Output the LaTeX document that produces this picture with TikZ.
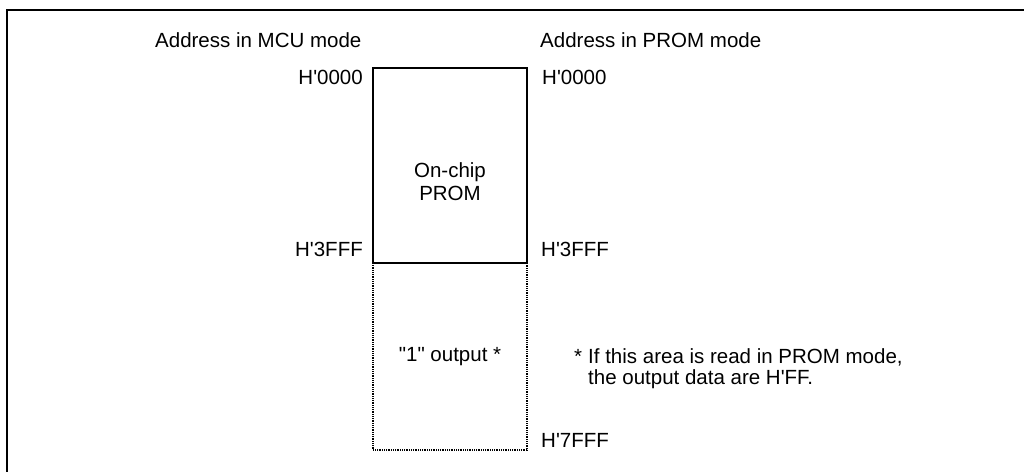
\documentclass[tikz,border=0pt]{standalone}
\usepackage{fontspec}
\setmainfont{Liberation Sans}
\begin{document}
\begin{tikzpicture}[x=1pt,y=-1pt,
  lbl/.style={inner sep=0pt,font=\fontsize{20.5}{24}\selectfont},
  frameline/.style={line width=1.6pt,black},
  solidbox/.style={line width=1.3pt,black},
  dotbox/.style={line width=1.2pt,black,dash pattern=on 0.9pt off 0.9pt}]
\useasboundingbox (0,0) rectangle (1024,471);
% outer frame (only left and top are visible)
\draw[frameline] (7,480) -- (7,10) -- (1030,10);
% memory map
\coordinate (tl) at (373,68);
\coordinate (tr) at (527,68);
\coordinate (ml) at (373,263);
\coordinate (mr) at (527,263);
\coordinate (bl) at (373,450);
\coordinate (br) at (527,450);
\draw[dotbox] (ml) -- (bl) -- (br) -- (mr);
\draw[solidbox] (tl) rectangle (mr);
% headings
\node[lbl,anchor=base west] (mcu) at (155,47) {Address in MCU mode};
\node[lbl,anchor=base west] (prom) at (540,47) {Address in PROM mode};
% addresses
\node[lbl,anchor=base east] (a0) at (363,84) {H\textquotesingle0000};
\node[lbl,anchor=base east] (a1) at (363,256) {H\textquotesingle3FFF};
\node[lbl,anchor=base west] (b0) at (542,84) {H\textquotesingle0000};
\node[lbl,anchor=base west] (b1) at (541,256) {H\textquotesingle3FFF};
\node[lbl,anchor=base west] (b2) at (541,447) {H\textquotesingle7FFF};
% area labels
\node[lbl,anchor=base] (oc) at (450,177) {On-chip};
\node[lbl,anchor=base] (pr) at (450,200) {PROM};
\node[lbl,anchor=base] (one) at (450,361) {\textquotedbl1\textquotedbl{} output *};
% footnote
\node[lbl,anchor=base west] (star) at (574,363) {*};
\node[lbl,anchor=base west] (fn1) at (588,363) {If this area is read in PROM mode,};
\node[lbl,anchor=base west] (fn2) at (588,384) {the output data are H\textquotesingle FF.};
\end{tikzpicture}
\end{document}
